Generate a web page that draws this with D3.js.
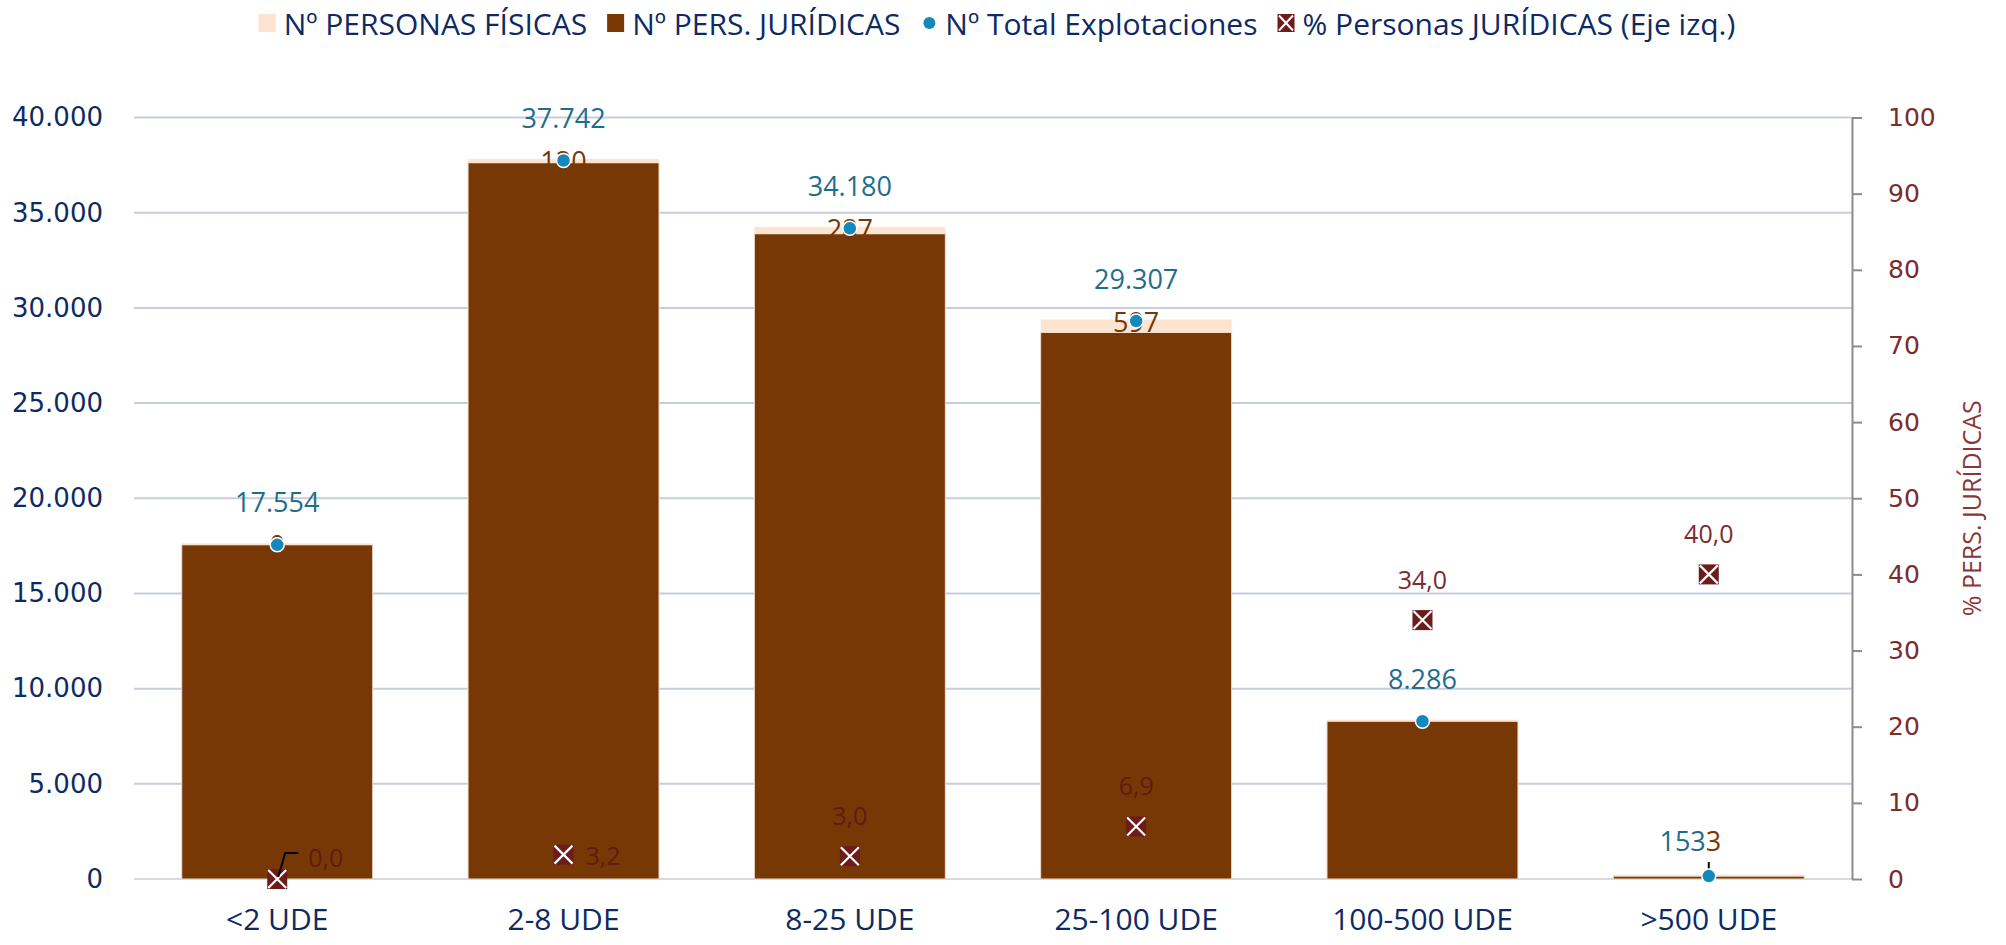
<!DOCTYPE html>
<html>
<head>
<meta charset="utf-8">
<script src="https://cdn.jsdelivr.net/npm/d3@7"></script>
<style>
  body { margin: 0; background: #fff; }
  svg { display: block; }
</style>
</head>
<body>
<div class="canvas"></div>
<script>
// datos
const categories = ["<2 UDE", "2-8 UDE", "8-25 UDE", "25-100 UDE", "100-500 UDE", ">500 UDE"];
const totalExplotaciones = [17554, 37742, 34180, 29307, 8286, 153];
const persJuridicas = [0, 120, 287, 597, 1, 3];
const pctJuridicas = [0.0, 3.2, 3.0, 6.9, 34.0, 40.0];
const leftTicks = [0, 5000, 10000, 15000, 20000, 25000, 30000, 35000, 40000];
const rightTicks = [0, 10, 20, 30, 40, 50, 60, 70, 80, 90, 100];
const legendLabels = ["Nº PERSONAS FÍSICAS", "Nº PERS. JURÍDICAS", "Nº Total Explotaciones", "% Personas JURÍDICAS (Eje izq.)"];

// donde va la etiqueta del %
const pctPlacement = ["leader", "right", "above", "above", "above", "above"];
// etiqueta de juridicas tapada por el punto
const hideJurLabel = [false, false, false, false, true, false];

const W = 2006, H = 945;
const plot = { left: 134, right: 1852, top: 117.5, bottom: 879 };

const col = {
  brown: "#783805",
  peach: "#fce4d0",
  dot: "#1189ba",
  dotText: "#1f6d8d",
  marker: "#6e1b1b",
  pctText: "#7b2c2c",
  navy: "#0e2a64",
  grid: "#c7cddd",
};

const svg = d3.select(".canvas").append("svg").attr("width", W).attr("height", H);

const x = d3.scaleBand().domain(categories).range([plot.left, plot.right]).paddingInner(0.333).paddingOuter(0.1667);
const y = d3.scaleLinear().domain([0, 40000]).range([plot.bottom, plot.top]);
const y2 = d3.scaleLinear().domain([0, 100]).range([plot.bottom, plot.top]);

const fmtEs = (v) => d3.format(",")(v).replace(/,/g, ".");
const fmtPct = (v) => d3.format(".1f")(v).replace(".", ",");

// gridlines
svg.append("g")
  .selectAll("line")
  .data(leftTicks)
  .join("line")
  .attr("x1", plot.left)
  .attr("x2", plot.right)
  .attr("y1", (d) => y(d))
  .attr("y2", (d) => y(d))
  .attr("stroke", (d) => (d === 0 ? "#d9d9d9" : col.grid))
  .attr("stroke-width", 2);

// eje izq
const leftAxis = svg.append("g")
  .attr("transform", `translate(${plot.left},0)`)
  .call(d3.axisLeft(y).tickValues(leftTicks).tickFormat(fmtEs).tickSize(0).tickPadding(31));
leftAxis.select(".domain").remove();
leftAxis.selectAll("text")
  .attr("font-family", "DejaVu Sans")
  .attr("font-size", 26)
  .attr("fill", col.navy);

// eje dcho
const rightAxis = svg.append("g")
  .attr("transform", `translate(${plot.right},0)`)
  .call(d3.axisRight(y2).tickValues(rightTicks).tickSize(10).tickSizeOuter(0).tickPadding(26));
rightAxis.select(".domain").attr("stroke", "#8c8c8c").attr("stroke-width", 2);
rightAxis.selectAll(".tick line").attr("stroke", "#8c8c8c").attr("stroke-width", 2);
rightAxis.selectAll("text")
  .attr("font-family", "DejaVu Sans")
  .attr("font-size", 25)
  .attr("fill", col.pctText);

svg.append("text")
  .attr("transform", `translate(1971,${(plot.top + plot.bottom) / 2 + 10}) rotate(-90)`)
  .attr("text-anchor", "middle")
  .attr("dominant-baseline", "central")
  .attr("font-family", "Open Sans")
  .attr("font-size", 25)
  .attr("fill", "#8b3636")
  .text("% PERS. JURÍDICAS");

// eje x
const xAxis = svg.append("g")
  .attr("transform", `translate(0,${plot.bottom})`)
  .call(d3.axisBottom(x).tickSize(0).tickPadding(30));
xAxis.select(".domain").remove();
xAxis.selectAll("text")
  .attr("font-family", "Open Sans")
  .attr("font-size", 30)
  .attr("fill", col.navy);

// barras apiladas
const rows = categories.map((c, i) => ({
  cat: c,
  total: totalExplotaciones[i],
  jur: persJuridicas[i],
  fis: totalExplotaciones[i] - persJuridicas[i],
  pct: pctJuridicas[i],
  i,
}));

const bars = svg.append("g");
bars.selectAll("rect.fis")
  .data(rows)
  .join("rect")
  .attr("class", "fis")
  .attr("x", (d) => x(d.cat))
  .attr("width", x.bandwidth())
  .attr("y", (d) => y(d.fis))
  .attr("height", (d) => y(0) - y(d.fis))
  .attr("fill", col.brown)
  .attr("stroke", "#eedccd")
  .attr("stroke-width", 1);
bars.selectAll("rect.jur")
  .data(rows)
  .join("rect")
  .attr("class", "jur")
  .attr("x", (d) => x(d.cat))
  .attr("width", x.bandwidth())
  .attr("y", (d) => y(d.total) - 1.5)
  .attr("height", (d) => y(d.fis) - y(d.total) + 1.5)
  .attr("fill", col.peach);

const cx = (d) => x(d.cat) + x.bandwidth() / 2;
const last = categories.length - 1;

// etiquetas juridicas
svg.append("g")
  .selectAll("text")
  .data(rows.filter((d) => !hideJurLabel[d.i]))
  .join("text")
  .attr("x", (d) => (d.i === last ? cx(d) - 3 : cx(d)))
  .attr("y", (d) => (d.i === last ? y(d.total) - 36 : y(d.total)))
  .attr("text-anchor", (d) => (d.i === last ? "start" : "middle"))
  .attr("dominant-baseline", "central")
  .attr("font-family", "Open Sans")
  .attr("font-size", 27)
  .attr("fill", col.brown)
  .text((d) => d.jur);

// linea guia del ultimo punto
svg.append("line")
  .attr("x1", cx(rows[last]))
  .attr("x2", cx(rows[last]))
  .attr("y1", y(rows[last].total))
  .attr("y2", y(rows[last].total) - 14)
  .attr("stroke", "#000")
  .attr("stroke-width", 2);

// puntos total
svg.append("g")
  .selectAll("circle")
  .data(rows)
  .join("circle")
  .attr("cx", cx)
  .attr("cy", (d) => y(d.total))
  .attr("r", 7)
  .attr("fill", col.dot)
  .attr("stroke", "#fff")
  .attr("stroke-width", 1.5);

svg.append("g")
  .selectAll("text")
  .data(rows)
  .join("text")
  .attr("x", (d) => (d.i === last ? cx(d) - 3 : cx(d)))
  .attr("y", (d) => (d.i === last ? y(d.total) - 36 : y(d.total) - 43))
  .attr("text-anchor", (d) => (d.i === last ? "end" : "middle"))
  .attr("dominant-baseline", "central")
  .attr("font-family", "Open Sans")
  .attr("font-size", 27)
  .attr("fill", col.dotText)
  .text((d) => fmtEs(d.total));

// marcadores %
const mk = 10;
const markers = svg.append("g")
  .selectAll("g")
  .data(rows)
  .join("g")
  .attr("transform", (d) => `translate(${cx(d)},${y2(d.pct)})`);
markers.append("rect")
  .attr("x", -mk).attr("y", -mk).attr("width", mk * 2).attr("height", mk * 2)
  .attr("fill", col.marker);
markers.append("path")
  .attr("d", `M${-mk + 1},${-mk + 1}L${mk - 1},${mk - 1}M${mk - 1},${-mk + 1}L${-mk + 1},${mk - 1}`)
  .attr("stroke", "#fff")
  .attr("stroke-width", 2.2);

// linea guia 0,0
const r0 = rows[0];
svg.append("path")
  .attr("d", `M${cx(r0) + 1},${y2(r0.pct) - 2}L${cx(r0) + 8},${y2(r0.pct) - 26}L${cx(r0) + 21},${y2(r0.pct) - 26}`)
  .attr("fill", "none")
  .attr("stroke", "#000")
  .attr("stroke-width", 2);

svg.append("g")
  .selectAll("text")
  .data(rows)
  .join("text")
  .attr("x", (d) => {
    const p = pctPlacement[d.i];
    if (p === "leader") return cx(d) + 31;
    if (p === "right") return cx(d) + 22;
    return cx(d);
  })
  .attr("y", (d) => {
    const p = pctPlacement[d.i];
    if (p === "leader") return y2(d.pct) - 22;
    if (p === "right") return y2(d.pct);
    return y2(d.pct) - 41;
  })
  .attr("text-anchor", (d) => (pctPlacement[d.i] === "above" ? "middle" : "start"))
  .attr("dominant-baseline", "central")
  .attr("font-family", "Open Sans")
  .attr("font-size", 25)
  .attr("fill", (d) => (d.i < 4 ? "#5f1b14" : col.pctText))
  .text((d) => fmtPct(d.pct));

// leyenda
const legend = svg.append("g").attr("transform", "translate(0,23)");
const items = legend.selectAll("g")
  .data(legendLabels)
  .join("g");
items.append("text")
  .attr("x", 25)
  .attr("dominant-baseline", "central")
  .attr("font-family", "Open Sans")
  .attr("font-size", 30)
  .attr("fill", col.navy)
  .text((d) => d);
items.each(function (d, i) {
  const g = d3.select(this);
  if (i === 0 || i === 1) {
    g.append("rect").attr("x", 0).attr("y", -9).attr("width", 17).attr("height", 18)
      .attr("fill", i === 0 ? col.peach : col.brown);
  } else if (i === 2) {
    g.append("circle").attr("cx", 9).attr("cy", 0).attr("r", 6).attr("fill", col.dot);
  } else {
    g.append("rect").attr("x", 0).attr("y", -9).attr("width", 17).attr("height", 18).attr("fill", col.marker);
    g.append("path").attr("d", "M1.5,-7.5L15.5,7.5M15.5,-7.5L1.5,7.5").attr("stroke", "#fff").attr("stroke-width", 2);
  }
});
const widths = [];
items.each(function () {
  widths.push(d3.select(this).select("text").node().getComputedTextLength() + 25);
});
const gap = 20;
const totalW = d3.sum(widths) + gap * (widths.length - 1);
let lx = 997 - totalW / 2;
items.attr("transform", (d, i) => {
  const t = `translate(${lx},0)`;
  lx += widths[i] + gap;
  return t;
});
</script>
</body>
</html>
